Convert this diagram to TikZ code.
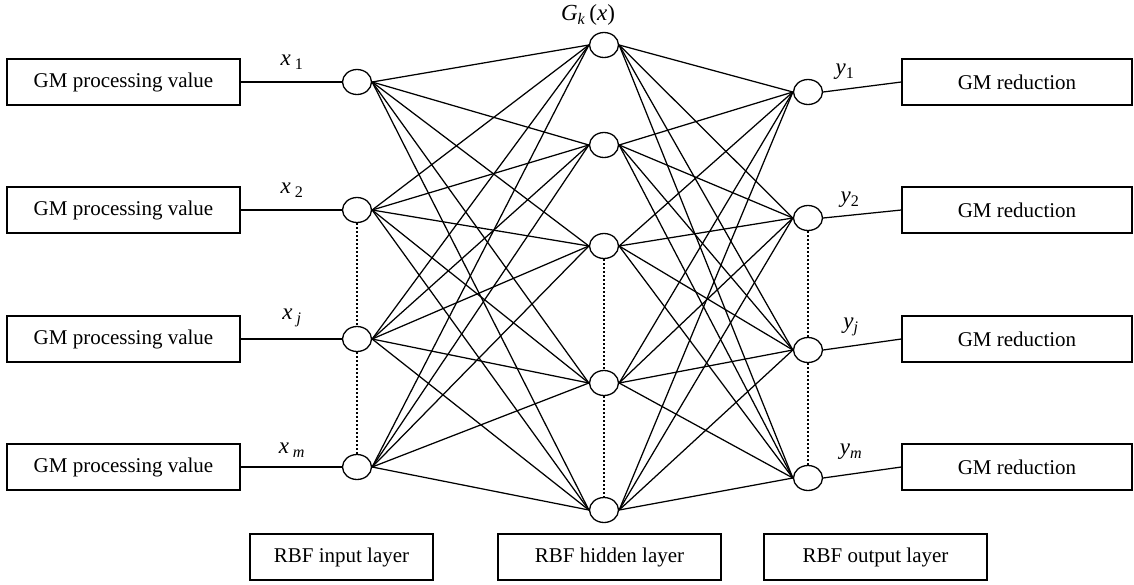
\documentclass[tikz,border=0pt]{standalone}
\usepackage{fontspec}
\setmainfont{Liberation Serif}
\usetikzlibrary{shapes.geometric}
\begin{document}
\begin{tikzpicture}[x=1pt,y=-1pt,
  box/.style={draw, line width=1.3pt, minimum height=46pt, inner sep=0pt,
              font=\fontsize{21}{25}\selectfont},
  neuron/.style={draw, ellipse, minimum width=29pt, minimum height=25pt,
                 inner sep=0pt, line width=1.3pt, fill=white},
  link/.style={line width=1.25pt},
  dotline/.style={line width=1.3pt, dash pattern=on 1.4pt off 2.6pt},
  lbl/.style={font=\fontsize{23}{27}\selectfont, inner sep=0pt}]
\useasboundingbox (0,0) rectangle (1134,584);

% input boxes
\node[box, minimum width=233pt] (gin1) at (123.5,82)  {GM processing value};
\node[box, minimum width=233pt] (gin2) at (123.5,210) {GM processing value};
\node[box, minimum width=233pt] (gin3) at (123.5,339) {GM processing value};
\node[box, minimum width=233pt] (gin4) at (123.5,467) {GM processing value};

% output boxes
\node[box, minimum width=230pt] (gout1) at (1017,82)  {GM reduction};
\node[box, minimum width=230pt] (gout2) at (1017,210) {GM reduction};
\node[box, minimum width=230pt] (gout3) at (1017,339) {GM reduction};
\node[box, minimum width=230pt] (gout4) at (1017,467) {GM reduction};

% layer captions
\node[box, minimum width=183pt] (capin)  at (341.5,557) {RBF input layer};
\node[box, minimum width=223pt] (caphid) at (609.5,557) {RBF hidden layer};
\node[box, minimum width=223pt] (capout) at (875.5,557) {RBF output layer};

% neuron positions
\coordinate (in1) at (357,82);
\coordinate (in2) at (357,210);
\coordinate (in3) at (357,339);
\coordinate (in4) at (357,467);
\coordinate (hid1) at (604,45);
\coordinate (hid2) at (604,145);
\coordinate (hid3) at (604,246);
\coordinate (hid4) at (604,383);
\coordinate (hid5) at (604,510);
\coordinate (out1) at (808,92);
\coordinate (out2) at (808,218);
\coordinate (out3) at (808,350);
\coordinate (out4) at (808,478);

\foreach \i in {1,...,4}
  \node[neuron] (nin\i) at (in\i) {};
\foreach \h in {1,...,5}
  \node[neuron] (nhid\h) at (hid\h) {};
\foreach \o in {1,...,4}
  \node[neuron] (nout\o) at (out\o) {};

% full connections between layers
\foreach \i in {1,...,4}
  \foreach \h in {1,...,5}
    \draw[link] (nin\i.east) -- (nhid\h.west);
\foreach \h in {1,...,5}
  \foreach \o in {1,...,4}
    \draw[link] (nhid\h.east) -- (nout\o.west);

\foreach \i in {1,...,4}
  \draw[link] (gin\i.east) -- (nin\i.west);
\foreach \o in {1,...,4}
  \draw[link] (nout\o.east) -- (gout\o.west);

% skipped neurons
\draw[dotline] (nin2.south) -- (nin3.north);
\draw[dotline] (nin3.south) -- (nin4.north);
\draw[dotline] (nhid3.south) -- (nhid4.north);
\draw[dotline] (nhid4.south) -- (nhid5.north);
\draw[dotline] (nout2.south) -- (nout3.north);
\draw[dotline] (nout3.south) -- (nout4.north);

% labels
\node[lbl] (lx1) at (292,62)  {\textit{x}\,\textsubscript{1}};
\node[lbl] (lx2) at (292,190) {\textit{x}\,\textsubscript{2}};
\node[lbl] (lx3) at (292,318) {\textit{x}\,\textsubscript{\textit{j}}};
\node[lbl] (lx4) at (292,450) {\textit{x}\,\textsubscript{\textit{m}}};
\node[lbl] (ly1) at (845,72)  {\textit{y}\textsubscript{1}};
\node[lbl] (ly2) at (850,200) {\textit{y}\textsubscript{2}};
\node[lbl] (ly3) at (851,327) {\textit{y}\textsubscript{\textit{j}}};
\node[lbl] (ly4) at (851,452) {\textit{y}\textsubscript{\textit{m}}};
\node[lbl] (lg)  at (588,15)  {\textit{G}\textsubscript{\textit{k}}\,(\textit{x})};
\end{tikzpicture}
\end{document}
